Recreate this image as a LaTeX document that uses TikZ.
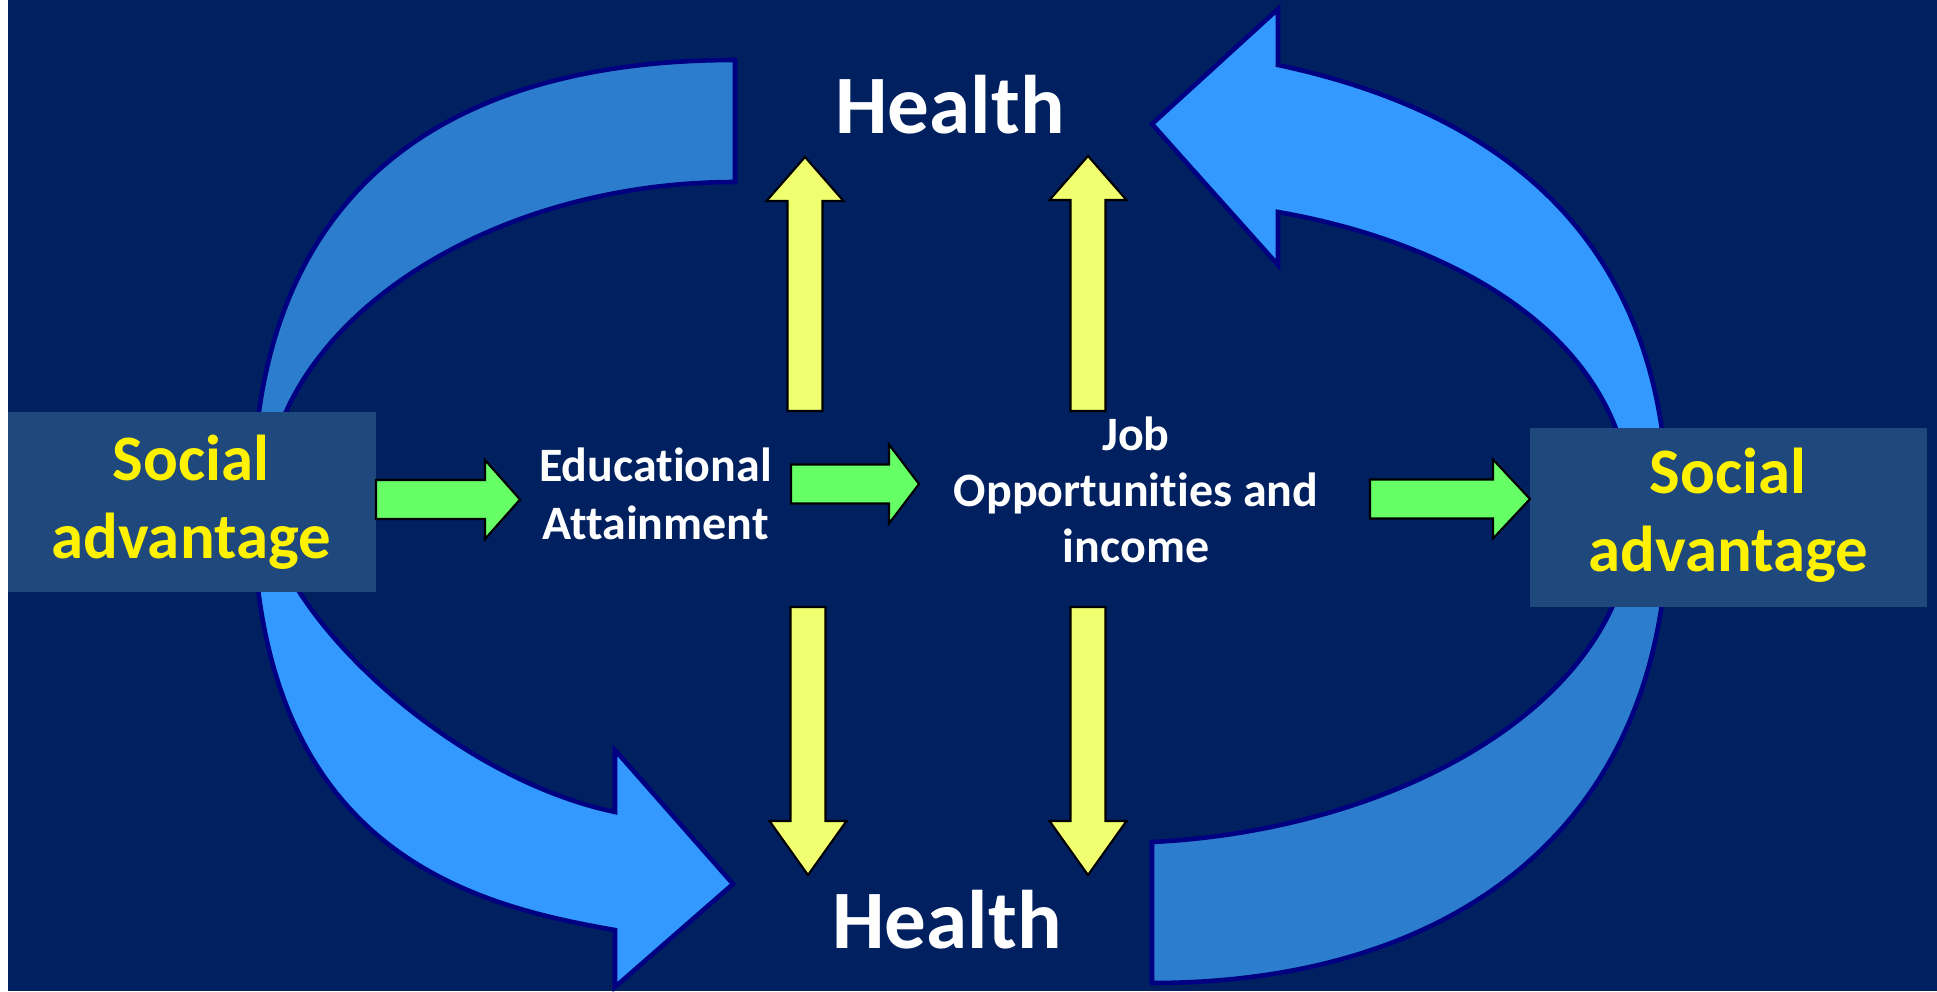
\documentclass[tikz,border=0pt]{standalone}
\usepackage{fontspec}
\setmainfont{Carlito}[RawFeature={-liga}]
\usetikzlibrary{calc}

\definecolor{navy}{RGB}{0,32,96}
\definecolor{boxblue}{RGB}{31,73,125}
\definecolor{ringdark}{RGB}{44,125,205}
\definecolor{ringlight}{RGB}{51,153,255}
\definecolor{rimblue}{RGB}{0,0,128}
\definecolor{pale}{RGB}{240,255,112}
\definecolor{lime}{RGB}{102,255,102}

% style, tail, tip, shaft half width, head half width, head length
\newcommand{\blockarrow}[6]{%
  \coordinate (hb) at ($(#3)!#6!(#2)$);
  \draw[#1] ($(#2)!#4!90:(#3)$) -- ($(hb)!#4!90:(#3)$) -- ($(hb)!#5!90:(#3)$) -- (#3)
    -- ($(hb)!#5!-90:(#3)$) -- ($(hb)!#4!-90:(#3)$) -- ($(#2)!#4!-90:(#3)$) -- cycle;}

\begin{document}
\begin{tikzpicture}[x=0.02cm,y=-0.02cm,
    ring/.style={draw=rimblue,line width=2.6pt,line join=miter},
    panel/.style={fill=boxblue,minimum width=#1,minimum height=3.6cm,inner sep=0pt},
    yarrow/.style={fill=pale,draw=black,line width=1.2pt},
    garrow/.style={fill=lime,draw=black,line width=1.2pt},
    big/.style={text=white,font=\bfseries\fontsize{47.3}{56}\selectfont,anchor=base},
    adv/.style={text=yellow,align=center,anchor=base,font=\bfseries\fontsize{36.9}{44}\selectfont},
    small/.style={text=white,align=center,anchor=base,font=\bfseries\fontsize{27.3}{32.7}\selectfont}]

  % background
  \fill[white] (0,0) rectangle (1937,991);
  \fill[navy] (7.5,0) rectangle (1937,991);

  % left loop: upper band and lower arrow
  \draw[ring,fill=ringdark] (735,60) .. controls (440,60) and (253,195) .. (253,502)
    -- (266,502) .. controls (266,330) and (480,182) .. (735,182) -- cycle;
  \draw[ring,fill=ringlight] (253,502) .. controls (253,850) and (470,905) .. (615,930)
    -- (615,987) -- (733,884) -- (615,750) -- (615,812)
    .. controls (440,775) and (266,600) .. (266,502) -- cycle;

  % right loop: upper arrow and lower band
  \draw[ring,fill=ringlight] (1278,65) .. controls (1490,110) and (1668,230) .. (1668,517)
    -- (1632,517) .. controls (1632,330) and (1440,240) .. (1278,212)
    -- (1278,265) -- (1152,124) -- (1278,9) -- cycle;
  \draw[ring,fill=ringdark] (1668,517) .. controls (1668,830) and (1450,983) .. (1152,983)
    -- (1152,842) .. controls (1400,830) and (1632,700) .. (1632,517) -- cycle;

  % boxes
  \node[panel=7.36cm] (sal) at (192,501.7) {};
  \node[panel=7.94cm,minimum height=3.59cm] (sar) at (1728.5,517.4) {};

  % arrow ends
  \coordinate (ua0) at (805,411);  \coordinate (ua1) at (805,157);
  \coordinate (ub0) at (1088,411); \coordinate (ub1) at (1088,156);
  \coordinate (da0) at (808,607);  \coordinate (da1) at (808,875);
  \coordinate (db0) at (1088,607); \coordinate (db1) at (1088,875);
  \coordinate (ga0) at (376,499.5); \coordinate (ga1) at (520,499.5);
  \coordinate (gb0) at (791,484);   \coordinate (gb1) at (919,484);
  \coordinate (gc0) at (1370,499);  \coordinate (gc1) at (1530,499);

  \blockarrow{yarrow}{ua0}{ua1}{0.35cm}{0.77cm}{0.88cm}
  \blockarrow{yarrow}{ub0}{ub1}{0.35cm}{0.77cm}{0.88cm}
  \blockarrow{yarrow}{da0}{da1}{0.35cm}{0.77cm}{1.08cm}
  \blockarrow{yarrow}{db0}{db1}{0.35cm}{0.77cm}{1.08cm}
  \blockarrow{garrow}{ga0}{ga1}{0.39cm}{0.79cm}{0.70cm}
  \blockarrow{garrow}{gb0}{gb1}{0.39cm}{0.79cm}{0.60cm}
  \blockarrow{garrow}{gc0}{gc1}{0.39cm}{0.79cm}{0.74cm}

  % texts (base = last line)
  \node[big] (htop) at (950,133) {Health};
  \node[big] (hbot) at (947,948) {Health};
  \node[adv] (salt) at (191,558) {Social\\advantage};
  \node[adv] (sart) at (1728,571) {Social\\advantage};
  \node[small] (edu) at (655.5,539.3) {Educational\\Attainment};
  \node[small,font=\bfseries\fontsize{27.3}{31.8}\selectfont] (job) at (1136,562) {Job\\Opportunities and\\income};
\end{tikzpicture}
\end{document}
